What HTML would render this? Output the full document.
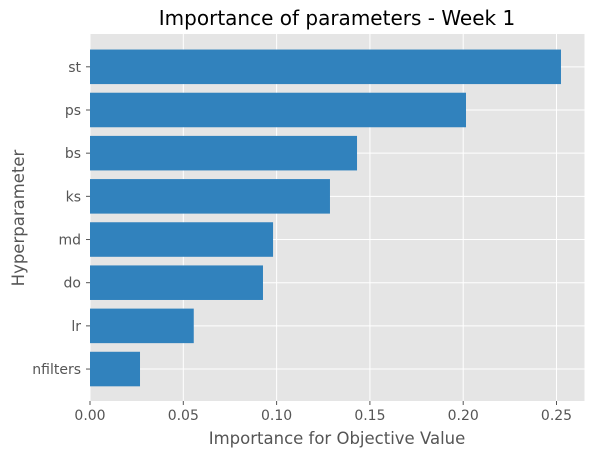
<!DOCTYPE html>
<html><head><meta charset="utf-8"><style>
body{margin:0;background:#fff;font-family:"Liberation Sans","DejaVu Sans",sans-serif}
svg text{font-family:"DejaVu Sans","Liberation Sans",sans-serif}
</style></head><body>
<svg id="chart" width="594" height="457" xmlns="http://www.w3.org/2000/svg">
<rect x="90" y="34" width="494.5" height="367" fill="#e5e5e5"/>
<g id="grid"></g><g id="bars"></g><g id="xt"></g><g id="yt"></g>
<text x="337" y="25" font-size="20" text-anchor="middle" fill="#000">Importance of parameters - Week 1</text>
<text x="337" y="444" font-size="16.5" text-anchor="middle" fill="#555">Importance for Objective Value</text>
<text x="24" y="218" font-size="16.5" text-anchor="middle" fill="#555" transform="rotate(-90 24 218)">Hyperparameter</text>
</svg>
<script>
const categories=["nfilters","lr","do","md","ks","bs","ps","st"];
const values=[0.0268,0.0556,0.0927,0.0981,0.1286,0.1431,0.2015,0.2524];
const xTicks=[0,0.05,0.1,0.15,0.2,0.25];
const xTickLabels=["0.00","0.05","0.10","0.15","0.20","0.25"];
const NS="http://www.w3.org/2000/svg";
const X0=90,X1=584.5,Y0=34,Y1=401;
const xMax=(X1-X0)/1866;
function xs(v){return X0+v/xMax*(X1-X0);}
const yMin=-0.74,yMax=7.76;
function ys(i){return Y1-(i-yMin)/(yMax-yMin)*(Y1-Y0);}
const unit=(Y1-Y0)/(yMax-yMin);
function mk(t,a,p){const e=document.createElementNS(NS,t);for(const k in a)e.setAttribute(k,a[k]);p.appendChild(e);return e;}
const grid=document.getElementById('grid'),bars=document.getElementById('bars'),xt=document.getElementById('xt'),yt=document.getElementById('yt');
xTicks.forEach((t,i)=>{const x=xs(t);
 let g=mk('line',{x1:x,x2:x,y1:Y0,y2:Y1,stroke:'#fff','stroke-width':1},grid);
 
 
 let tk=mk('line',{x1:x,x2:x,y1:Y1,y2:Y1+4,stroke:'#555'},xt);
 
 
 let l=mk('text',{x:x,y:Y1+19,'font-size':14,'text-anchor':'middle',fill:'#555'},xt);l.textContent=xTickLabels[i];
 
 
});
categories.forEach((c,i)=>{const y=ys(i);
 let g=mk('line',{x1:X0,x2:X1,y1:y,y2:y,stroke:'#fff','stroke-width':1},grid);
 
 
 let b=mk('rect',{x:X0,y:y-0.4*unit,width:xs(values[i])-X0,height:0.8*unit,fill:'#3182bd'},bars);
 
 
 let tk=mk('line',{x1:X0-4,x2:X0,y1:y,y2:y,stroke:'#555'},yt);
 
 
 let l=mk('text',{x:X0-9,y:y+5,'font-size':14,'text-anchor':'end',fill:'#555'},yt);l.textContent=c;
 
 
});
</script>
</body></html>
